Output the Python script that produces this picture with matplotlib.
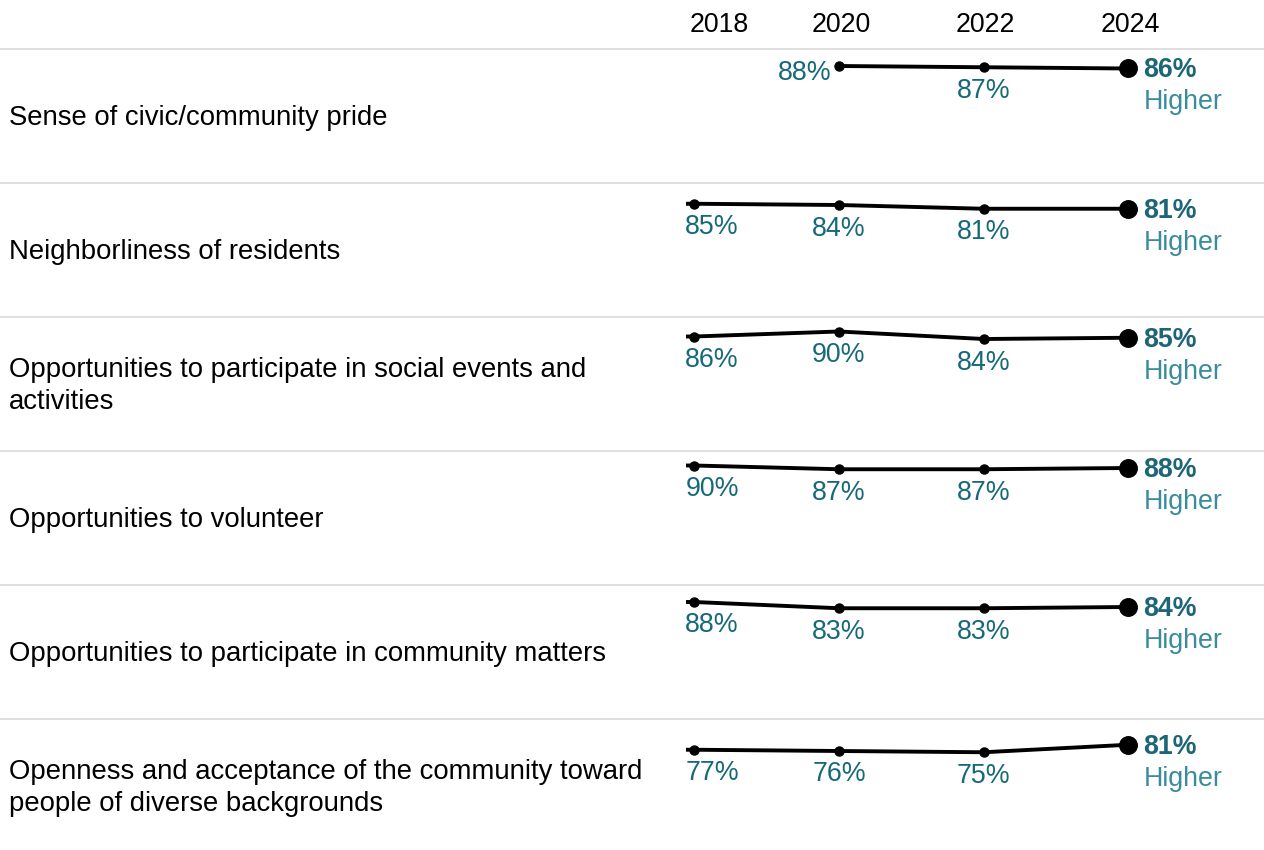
import matplotlib
matplotlib.use("Agg")
import matplotlib.pyplot as plt

plt.rcParams["font.family"] = ["Liberation Sans", "DejaVu Sans"]

# ---------------- data ----------------
categories = [
    "Sense of civic/community pride",
    "Neighborliness of residents",
    "Opportunities to participate in social events and\nactivities",
    "Opportunities to volunteer",
    "Opportunities to participate in community matters",
    "Openness and acceptance of the community toward\npeople of diverse backgrounds",
]
years = [2018, 2020, 2022, 2024]
pride = [None, 88, 87, 86]
neighborliness = [85, 84, 81, 81]
social_events = [86, 90, 84, 85]
volunteer = [90, 87, 87, 88]
community_matters = [88, 83, 83, 84]
openness = [77, 76, 75, 81]
comparison = ["Higher", "Higher", "Higher", "Higher", "Higher", "Higher"]

series = [pride, neighborliness, social_events, volunteer, community_matters, openness]

# ---------------- layout / style ----------------
W, H = 1264, 850
PX = 0.72                  # points per pixel at dpi 100
ROW_TOP0, ROW_H = 49, 134
PLOT_L = 686
X0_PX, X_STEP_PX = 694.3, 72.33
YLIM = (-5.6, 101.6)

VAL_COLOR = "#17697a"
LAST_COLOR = "#1d6577"
CMP_COLOR = "#3a8c9c"
SEP_COLOR = "#d6d6d6"
FS = 19.3
FS_LABEL = 19.8

fig = plt.figure(figsize=(W / 100, H / 100), dpi=100)
bg = fig.add_axes([0, 0, 1, 1])
bg.set_xlim(0, W)
bg.set_ylim(H, 0)
bg.axis("off")

xlim = (years[0] - (X0_PX - PLOT_L) / X_STEP_PX,
        years[0] + (W - X0_PX) / X_STEP_PX)

axes = []
for i, (label, vals) in enumerate(zip(categories, series)):
    top = ROW_TOP0 + i * ROW_H
    bg.plot([0, W], [top, top], color=SEP_COLOR, lw=1.1, zorder=0)
    bg.text(9, top + ROW_H / 2 + 2, label, ha="left", va="center",
            fontsize=FS_LABEL, color="black", linespacing=1.34)

    ax = fig.add_axes([PLOT_L / W, 1 - (top + ROW_H) / H, (W - PLOT_L) / W, ROW_H / H])
    ax.set_xlim(xlim)
    ax.set_ylim(YLIM)
    ax.axis("off")
    axes.append(ax)

    xs = [y for y, v in zip(years, vals) if v is not None]
    vs = [v for v in vals if v is not None]

    lx, lv = list(xs), list(vs)
    if xs[0] == years[0]:
        lx = [xlim[0]] + lx
        lv = [vs[0]] + lv
    ax.plot(lx, lv, color="black", lw=2.8, solid_capstyle="butt",
            solid_joinstyle="round", clip_on=False, zorder=2)
    ax.plot(xs[:-1], vs[:-1], "o", ms=6.5, color="black", clip_on=False, zorder=3)
    ax.plot(xs[-1:], vs[-1:], "o", ms=12.6, color="black", clip_on=False, zorder=3)

    for j, (x, v) in enumerate(zip(xs[:-1], vs[:-1])):
        txt = f"{v}%"
        if j == 0 and x == years[0]:
            ax.annotate(txt, (x, v), xytext=(-9 * PX, -30.5 * PX), textcoords="offset points",
                        ha="left", va="baseline", fontsize=FS, color=VAL_COLOR)
        elif j == 0:
            ax.annotate(txt, (x, v), xytext=(-7 * PX, -14 * PX), textcoords="offset points",
                        ha="right", va="baseline", fontsize=FS, color=VAL_COLOR)
        else:
            ax.annotate(txt, (x, v), xytext=(0, -30.5 * PX), textcoords="offset points",
                        ha="center", va="baseline", fontsize=FS, color=VAL_COLOR)

    ax.annotate(f"{vs[-1]}%", (xs[-1], vs[-1]), xytext=(15 * PX, -8.8 * PX),
                textcoords="offset points", ha="left", va="baseline",
                fontsize=FS, fontweight="bold", color=LAST_COLOR)
    ax.annotate(comparison[i], (xs[-1], vs[-1]), xytext=(15 * PX, -40.8 * PX),
                textcoords="offset points", ha="left", va="baseline",
                fontsize=FS, color=CMP_COLOR)

# year header
ax0 = axes[0]
for k, yr in enumerate(years):
    if k == 0:
        ha, dx = "left", -5
    else:
        ha, dx = "center", 2
    ax0.annotate(str(yr), (yr, 1), xycoords=("data", "axes fraction"),
                 xytext=(dx * PX, 16.7 * PX), textcoords="offset points",
                 ha=ha, va="baseline", fontsize=FS, color="black",
                 annotation_clip=False)

fig.savefig("out.png", dpi=100)
